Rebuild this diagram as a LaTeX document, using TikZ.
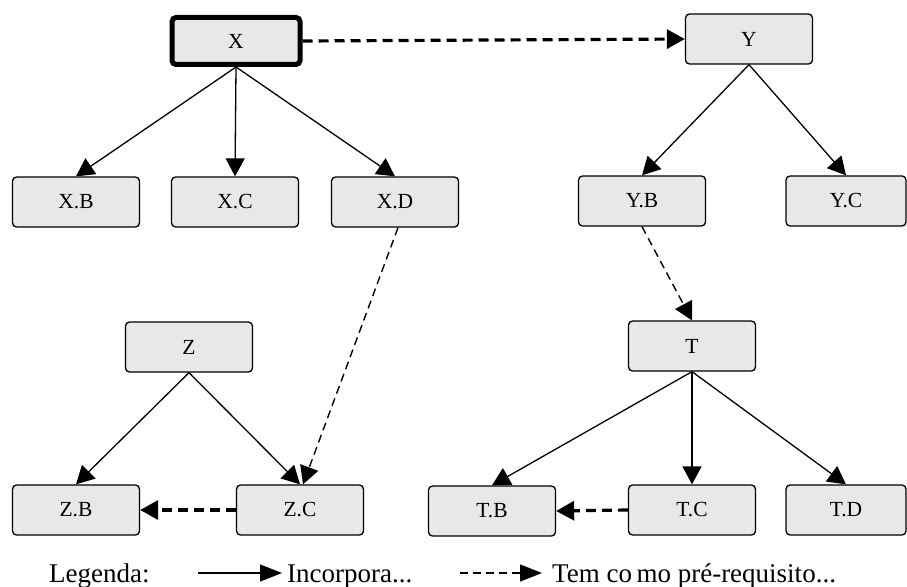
\documentclass[tikz,border=0pt]{standalone}
\usepackage{fontspec}
\setmainfont{Liberation Serif}
\usetikzlibrary{arrows.meta}
\begin{document}
\begin{tikzpicture}[x=1pt,y=-1pt,
  box/.style={draw=black, line width=1.3pt, rounded corners=4pt, fill=gray!18,
    minimum width=127pt, minimum height=50pt, inner sep=0pt, font=\fontsize{21.5}{25}\selectfont},
  rootbox/.style={box, line width=5pt, minimum width=128pt, minimum height=47pt},
  tip/.style={-{Triangle[length=18pt,width=19pt]}},
  has/.style={tip, line width=1.3pt},
  needs/.style={tip, line width=1.4pt, dash pattern=on 8pt off 5pt},
  needsbold/.style={tip, line width=3.2pt, dash pattern=on 10pt off 6pt},
  legtip/.style={-{Triangle[length=22pt,width=17pt]}},
  legend/.style={font=\fontsize{27}{30}\selectfont, inner sep=0pt, anchor=base west}]
\useasboundingbox (0,0) rectangle (907,586);

% top level
\node[rootbox] (X) at (236,41) {X};
\node[box] (Y) at (749,39) {Y};

% second level
\node[box] (XB) at (76,202) {X.B};
\node[box] (XC) at (235,202) {X.C};
\node[box] (XD) at (395,202) {X.D};
\node[box] (YB) at (642,201) {Y.B};
\node[box, minimum width=120pt] (YC) at (846,201) {Y.C};

% third level
\node[box] (Z) at (189,347) {Z};
\node[box] (T) at (692,346) {T};

% leaves
\node[box] (ZB) at (76,510) {Z.B};
\node[box] (ZC) at (300,510) {Z.C};
\node[box] (TB) at (492,511) {T.B};
\node[box] (TC) at (692,510) {T.C};
\node[box, minimum width=120pt] (TD) at (846,510) {T.D};

% composition
\draw[has] (X.south) -- (XB.north);
\draw[has] (X.south) -- (XC.north);
\draw[has] (X.south) -- (XD.north);
\draw[has] (Y.south) -- (YB.north);
\draw[has] (Y.south) -- (YC.north);
\draw[has] (Z.south) -- (ZC.north);
\draw[has] (Z.south) -- (ZB.north);
\draw[has] (T.south) -- (TB.north);
\draw[has] (T.south) -- (TC.north);
\draw[has] (T.south) -- (TD.north);

% prerequisites
\draw[needsbold] (X.east) -- (Y.west);
\draw[needsbold] (ZC.west) -- (ZB.east);
\draw[needsbold] (TC.west) -- (TB.east);
\draw[needs] ([xshift=3pt]XD.south) -- ([xshift=3pt]ZC.north);
\draw[needs] (YB.south) -- (T.north);

% legend
\node[legend] (leg) at (49,582) {Legenda:};
\coordinate (a1) at (198,573);
\coordinate (a2) at (282,573);
\draw[legtip, line width=1.3pt] (a1) -- (a2);
\node[legend] (inc) at (287,582) {Incorpora...};
\coordinate (b1) at (460,573);
\coordinate (b2) at (542,573);
\draw[legtip, line width=1.4pt, dash pattern=on 8pt off 5pt] (b1) -- (b2);
\node[legend] (req) at (552,582) {Tem co\,mo pré-requisito...};
\end{tikzpicture}
\end{document}
